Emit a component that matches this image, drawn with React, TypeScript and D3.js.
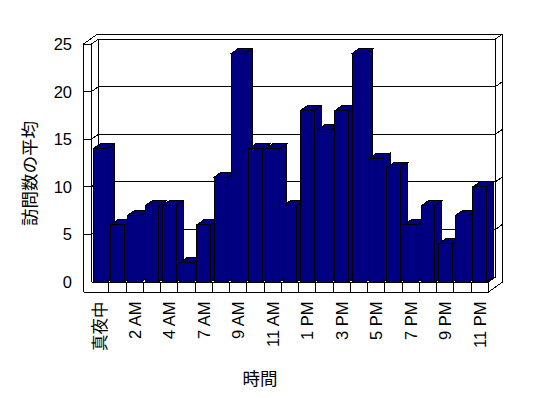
import React from "react";
import * as d3 from "d3";

const categories = ["真夜中","1 AM","2 AM","3 AM","4 AM","5 AM","7 AM","8 AM","9 AM","10 AM","11 AM","正午","1 PM","2 PM","3 PM","4 PM","5 PM","6 PM","7 PM","8 PM","9 PM","10 PM","11 PM"];
const values = [14,6,7,8,8,2,6,11,24,14,14,8,18,16,18,24,13,12,6,8,4,7,10];
const yTicks = [0,5,10,15,20,25];
const yTitle = "訪問数の平均";
const xTitle = "時間";

const W = 548, H = 398;
const DX = 7, DY = 5;
const X0 = 91.5, X1 = 488.5;
const WALL = 8, FLOOR = 10;
const NAVY = "#000080";
const FONT = "'Liberation Sans', 'Noto Sans CJK JP', sans-serif";
const CJK = "'Noto Sans CJK JP', sans-serif";

export default function App() {
  const x = d3.scaleBand<string>().domain(categories).range([X0, X1]).paddingInner(0.2).paddingOuter(0.1);
  const y = d3.scaleLinear().domain([0, 25]).range([282, 44]);
  const y0 = y(0), yTop = y(25);
  const xl = X0 - WALL;
  const bw = x.bandwidth();
  const L = (k: string, x1: number, y1: number, x2: number, y2: number) => (
    <line key={k} x1={x1} y1={y1} x2={x2} y2={y2} stroke="#000" strokeWidth={1} />
  );
  const lines: any[] = [];
  lines.push(L("lo", xl, yTop, xl, y0 + FLOOR));
  lines.push(L("li", X0, yTop, X0, y0));
  lines.push(L("ltd", xl, yTop, xl + 2 * DX, yTop - 2 * DY));
  lines.push(L("lid", X0, yTop, X0 + DX, yTop - DY));
  lines.push(L("lt", xl, yTop, X0, yTop));
  lines.push(L("bt2", xl + 2 * DX, yTop - 2 * DY, X1 + 2 * DX, yTop - 2 * DY));
  lines.push(L("bt1", X0 + DX, yTop - DY, X1 + DX, yTop - DY));
  lines.push(L("bc", X0 + DX, yTop - DY, X0 + DX, y0 - DY));
  lines.push(L("rd", X1 + DX, yTop - DY, X1 + 2 * DX, yTop - 2 * DY));
  lines.push(L("rv1", X1 + DX, yTop - DY, X1 + DX, y0 - DY));
  lines.push(L("rv2", X1 + 2 * DX, yTop - 2 * DY, X1 + 2 * DX, y0 + FLOOR - 2 * DY));
  lines.push(L("fb", xl, y0 + FLOOR, X1, y0 + FLOOR));
  lines.push(L("fbd", X1, y0 + FLOOR, X1 + 2 * DX, y0 + FLOOR - 2 * DY));
  lines.push(L("fr", X1, y0, X1, y0 + FLOOR));
  lines.push(L("ft", X0, y0, X1, y0));
  lines.push(L("ftd", X1, y0, X1 + DX, y0 - DY));
  lines.push(L("fbk", X0 + DX, y0 - DY, X1 + DX, y0 - DY));
  yTicks.filter(v => v > 0 && v < 25).forEach(v => {
    const yy = y(v);
    lines.push(L("g1" + v, xl, yy, X0, yy));
    lines.push(L("g2" + v, X0, yy, X0 + DX, yy - DY));
    lines.push(L("g3" + v, X0 + DX, yy - DY, X1 + DX, yy - DY));
    lines.push(L("g4" + v, X1 + DX, yy - DY, X1 + 2 * DX, yy - 2 * DY));
  });
  for (let i = 1; i < categories.length; i++) {
    const xx = X0 + i * x.step();
    lines.push(L("ct" + i, xx, y0, xx, y0 + FLOOR));
  }

  return (
    <svg width={W} height={H} style={{ position: "absolute", left: 0, top: 0, background: "#fff" }} shapeRendering="crispEdges">
      <rect x={0} y={0} width={W} height={H} fill="#fff" />
      {lines}
      {values.map((v, i) => {
        const bx = x(categories[i])!;
        const by = y(v);
        const front = `M${bx},${by}H${bx + bw}V${y0}H${bx}Z`;
        const top = `M${bx},${by}L${bx + DX},${by - DY}H${bx + bw + DX}L${bx + bw},${by}Z`;
        const side = `M${bx + bw},${by}L${bx + bw + DX},${by - DY}V${y0 - DY}L${bx + bw},${y0}Z`;
        return (
          <g key={i} fill={NAVY} stroke="#000" strokeWidth={1}>
            <path d={side} />
            <path d={top} />
            <path d={front} />
          </g>
        );
      })}
      {yTicks.map(v => (
        <text key={"yt" + v} x={72} y={y(v)} textAnchor="end" dominantBaseline="central" fontFamily={FONT} fontSize={16.5} fill="#000">{v}</text>
      ))}
      {categories.map((c, i) => i % 2 === 0 ? (
        <text key={"xt" + i} transform={`translate(${x(c)! + bw / 2},${301.5}) rotate(-90)`} textAnchor="end" dominantBaseline="central" fontFamily={FONT} fontSize={16.5} fill="#000">{c}</text>
      ) : null)}
      <text transform={`translate(28.5,173.5) rotate(-90)`} textAnchor="middle" dominantBaseline="central" fontFamily={CJK} fontSize={17.5} fill="#000">{yTitle}</text>
      <text x={260} y={377} textAnchor="middle" dominantBaseline="central" fontFamily={CJK} fontSize={17.5} fill="#000">{xTitle}</text>
    </svg>
  );
}
